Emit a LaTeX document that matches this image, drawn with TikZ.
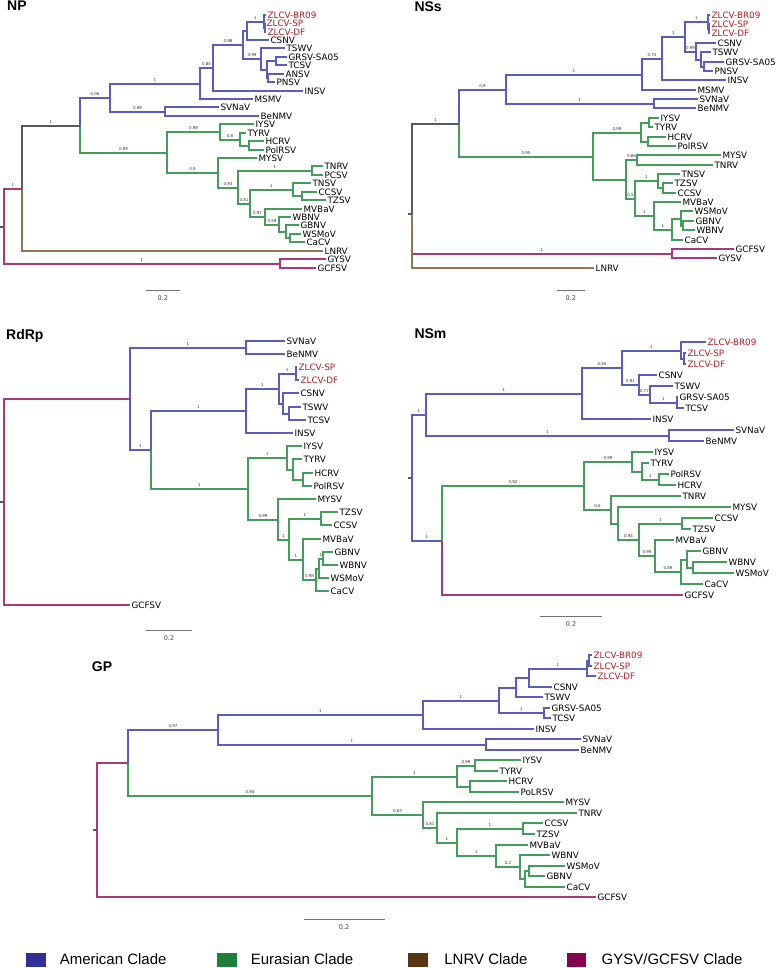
\documentclass[tikz,border=0pt]{standalone}
\usepackage{fontspec}
\setmainfont{DejaVu Sans}
\newfontfamily\ttlfam{Liberation Sans}
\usetikzlibrary{calc}

\definecolor{cAm}{RGB}{92,92,190}
\definecolor{cEu}{RGB}{70,156,92}
\definecolor{cLn}{RGB}{146,116,88}
\definecolor{cGg}{RGB}{168,58,122}
\definecolor{cZl}{RGB}{172,30,38}
\definecolor{kAm}{RGB}{48,48,150}
\definecolor{kEu}{RGB}{30,128,56}
\definecolor{kLn}{RGB}{88,52,16}
\definecolor{kGg}{RGB}{132,6,74}

\tikzset{
  br/.style={line width=2pt},
  am/.style={br,draw=cAm},
  eu/.style={br,draw=cEu},
  ln/.style={br,draw=cLn},
  gg/.style={br,draw=cGg},
  bk/.style={br,draw=black!65},
  leaf/.style={anchor=west,inner sep=1.4pt,text height=6.4pt,text depth=0pt,
    font=\fontsize{8.8}{10}\selectfont},
  sup/.style={pos=.75,above=2.3pt,inner sep=0pt,text height=2.9pt,text depth=0pt,
    font=\fontsize{4}{4}\selectfont,text=black!80},
  ttl/.style={anchor=base west,inner sep=0pt,font=\ttlfam\bfseries\fontsize{14}{16}\selectfont},
  scl/.style={draw=black!55,line width=1pt},
  scllab/.style={below=5pt,inner sep=0pt,font=\fontsize{6.5}{7}\selectfont,text=black!75},
  key/.style={anchor=base west,inner sep=0pt,font=\ttlfam\fontsize{15}{17}\selectfont},
}

% inner node of a tree: x given, y half way between its two children (on whole pixels)
\newcommand\ndat[4]{\path let \p1=(#3), \p2=(#4), \n1={round(#2)},
  \n2={round(0.5*(\y1+\y2)/1pt)} in ({\n1*1pt},{\n2*1pt}) coordinate (#1);}
\newcommand\clad[5][am]{\ndat{#2}{#3}{#4}{#5}%
  \draw[#1] (#2) |- (#4);
  \draw[#1] (#2) |- (#5);}
\newcommand\supp[3]{\path (#1) |- node[sup] (#2-s) {#3} (#2);}

\begin{document}
\begin{tikzpicture}[x=1pt,y=-1pt]
\path[use as bounding box,fill=white] (0,0) rectangle (778,968);

%%% NP
\node[ttl] (tNP) at (7,11) {NP};
\foreach \lf/\tx/\lc [count=\i from 0] in {ZLCV-BR09/266.2/cZl, ZLCV-SP/265.2/cZl,
  ZLCV-DF/266.2/cZl, CSNV/269.2/black, TSWV/284.5/black, GRSV-SA05/286.5/black,
  TCSV/286.5/black, ANSV/283.5/black, PNSV/275.2/black, INSV/303.2/black,
  MSMV/253.2/black, SVNaV/218.5/black, BeNMV/258.5/black, IYSV/254.2/black,
  TYRV/245.5/black, HCRV/263.5/black, PolRSV/263.5/black, MYSV/256.5/black,
  TNRV/322.5/black, PCSV/322.5/black, TNSV/310.5/black, CCSV/316.5/black,
  TZSV/325.5/black, MVBaV/301.5/black, WBNV/290.5/black, GBNV/298.5/black,
  WSMoV/300.5/black, CaCV/304.5/black, LNRV/322.5/black, GYSV/325.5/black,
  GCFSV/315.5/black}
  \path ({round(\tx)},{round(14.7+8.43*\i)}) coordinate (NP-\lf)
    node[leaf,text=\lc] (NP-\lf-l) {\lf};
\clad{NP-SPDF}{264.5}{NP-ZLCV-SP}{NP-ZLCV-DF}
\clad{NP-A1}{263.5}{NP-ZLCV-BR09}{NP-SPDF}
\clad{NP-A2}{246.7}{NP-A1}{NP-CSNV}
\clad{NP-B1}{276}{NP-GRSV-SA05}{NP-TCSV}
\clad{NP-B2}{268.3}{NP-ANSV}{NP-PNSV}
\clad{NP-B3}{266.7}{NP-B1}{NP-B2}
\clad{NP-B4}{260.7}{NP-TSWV}{NP-B3}
\clad{NP-C1}{243.3}{NP-A2}{NP-B4}
\clad{NP-C2}{212.7}{NP-C1}{NP-INSV}
\clad{NP-C3}{200}{NP-C2}{NP-MSMV}
\clad{NP-D1}{165}{NP-SVNaV}{NP-BeNMV}
\clad{NP-Am}{110}{NP-C3}{NP-D1}
\clad[eu]{NP-E1}{249.3}{NP-HCRV}{NP-PolRSV}
\clad[eu]{NP-E2}{240}{NP-TYRV}{NP-E1}
\clad[eu]{NP-E3}{220}{NP-IYSV}{NP-E2}
\clad[eu]{NP-F1}{312.3}{NP-TNRV}{NP-PCSV}
\clad[eu]{NP-G1}{301.7}{NP-CCSV}{NP-TZSV}
\clad[eu]{NP-G2}{292.7}{NP-TNSV}{NP-G1}
\clad[eu]{NP-H1}{290}{NP-WSMoV}{NP-CaCV}
\clad[eu]{NP-H2}{286}{NP-GBNV}{NP-H1}
\clad[eu]{NP-H3}{278.7}{NP-WBNV}{NP-H2}
\clad[eu]{NP-H4}{264.7}{NP-MVBaV}{NP-H3}
\clad[eu]{NP-G3}{250}{NP-G2}{NP-H4}
\clad[eu]{NP-F2}{238.3}{NP-F1}{NP-G3}
\clad[eu]{NP-F3}{218.3}{NP-MYSV}{NP-F2}
\clad[eu]{NP-Eu}{166.7}{NP-E3}{NP-F3}
\ndat{NP-AE}{80}{NP-Am}{NP-Eu}
\draw[am] (NP-AE) |- (NP-Am); \draw[eu] (NP-AE) |- (NP-Eu);
\ndat{NP-L}{21.7}{NP-AE}{NP-LNRV}
\draw[bk] (NP-L) |- (NP-AE); \draw[ln] (NP-L) |- (NP-LNRV);
\clad[gg]{NP-GG}{280}{NP-GYSV}{NP-GCFSV}
\clad[gg]{NP-root}{4}{NP-L}{NP-GG}
\draw[bk] (NP-root) -- ++(-4,0);
\supp{NP-A2}{NP-A1}{1}
\supp{NP-C1}{NP-B4}{0,99}
\supp{NP-C2}{NP-C1}{0,98}
\supp{NP-C3}{NP-C2}{0,85}
\supp{NP-Am}{NP-C3}{1}
\supp{NP-Am}{NP-D1}{0,99}
\supp{NP-AE}{NP-Am}{0,06}
\supp{NP-AE}{NP-Eu}{0,99}
\supp{NP-L}{NP-AE}{1}
\supp{NP-E3}{NP-E2}{0,8}
\supp{NP-Eu}{NP-E3}{0,99}
\supp{NP-Eu}{NP-F3}{0,9}
\supp{NP-F2}{NP-F1}{1}
\supp{NP-F3}{NP-F2}{0,93}
\supp{NP-G3}{NP-G2}{1}
\supp{NP-F2}{NP-G3}{0,81}
\supp{NP-G3}{NP-H4}{0,97}
\supp{NP-H4}{NP-H3}{0,59}
\supp{NP-root}{NP-L}{1}
\supp{NP-root}{NP-GG}{1}
\draw[scl] (145.7,290.5) -- node[scllab] (sNP) {0.2} (180,290.5);

%%% NSs
\node[ttl] (tNSs) at (414.3,11.7) {NSs};
\foreach \lf/\tx/\lc [count=\i from 0] in {ZLCV-BR09/710.2/cZl, ZLCV-SP/709.7/cZl,
  ZLCV-DF/709.9/cZl, CSNV/715.8/black, TSWV/710.8/black, GRSV-SA05/724.2/black,
  PNSV/712.5/black, INSV/725.8/black, MSMV/695.8/black, SVNaV/697.5/black,
  BeNMV/695.8/black, IYSV/659.2/black, TYRV/652.5/black, HCRV/665.8/black,
  PolRSV/675.8/black, MYSV/720.8/black, TNRV/712.5/black, TNSV/679.8/black,
  TZSV/672.5/black, CCSV/675.8/black, MVBaV/680.8/black, WSMoV/692.5/black,
  GBNV/694.2/black, WBNV/694.8/black, CaCV/683.2/black, GCFSV/734.2/black,
  GYSV/716.5/black, LNRV/593.5/black}
  \path ({round(\tx)},{round(14.7+9.37*\i)}) coordinate (NSs-\lf)
    node[leaf,text=\lc] (NSs-\lf-l) {\lf};
\clad{NSs-SPDF}{709.4}{NSs-ZLCV-SP}{NSs-ZLCV-DF}
\clad{NSs-A1}{708.3}{NSs-ZLCV-BR09}{NSs-SPDF}
\clad{NSs-B1}{704.3}{NSs-GRSV-SA05}{NSs-PNSV}
\clad{NSs-B2}{700.7}{NSs-TSWV}{NSs-B1}
\clad{NSs-B}{696}{NSs-CSNV}{NSs-B2}
\clad{NSs-C1}{685}{NSs-A1}{NSs-B}
\clad{NSs-C2}{661.7}{NSs-C1}{NSs-INSV}
\clad{NSs-C3}{642.3}{NSs-C2}{NSs-MSMV}
\clad{NSs-D1}{654}{NSs-SVNaV}{NSs-BeNMV}
\clad{NSs-Am}{506}{NSs-C3}{NSs-D1}
\clad[eu]{NSs-E1}{649.3}{NSs-IYSV}{NSs-TYRV}
\clad[eu]{NSs-E2}{648.3}{NSs-HCRV}{NSs-PolRSV}
\clad[eu]{NSs-E3}{640.7}{NSs-E1}{NSs-E2}
\clad[eu]{NSs-F1}{636.7}{NSs-MYSV}{NSs-TNRV}
\clad[eu]{NSs-G1}{663.3}{NSs-TZSV}{NSs-CCSV}
\clad[eu]{NSs-G2}{658.3}{NSs-TNSV}{NSs-G1}
\clad[eu]{NSs-GW}{683.3}{NSs-GBNV}{NSs-WBNV}
\clad[eu]{NSs-H1}{681}{NSs-WSMoV}{NSs-GW}
\clad[eu]{NSs-H2}{671.7}{NSs-H1}{NSs-CaCV}
\clad[eu]{NSs-H}{654}{NSs-MVBaV}{NSs-H2}
\clad[eu]{NSs-G}{635}{NSs-G2}{NSs-H}
\clad[eu]{NSs-F}{625.7}{NSs-F1}{NSs-G}
\clad[eu]{NSs-Eu}{592.7}{NSs-E3}{NSs-F}
\ndat{NSs-AE}{459}{NSs-Am}{NSs-Eu}
\draw[am] (NSs-AE) |- (NSs-Am); \draw[eu] (NSs-AE) |- (NSs-Eu);
\clad[gg]{NSs-GG}{671.7}{NSs-GCFSV}{NSs-GYSV}
\coordinate (NSs-root) at (412,214);
\draw[bk] (NSs-root) |- (NSs-AE);
\draw[gg] (NSs-root) |- (NSs-GG);
\draw[ln] (NSs-root) |- (NSs-LNRV);
\draw[bk] (NSs-root) -- ++(-4,0);
\supp{NSs-C1}{NSs-A1}{1}
\supp{NSs-C1}{NSs-B}{0,99}
\supp{NSs-C2}{NSs-C1}{1}
\supp{NSs-C3}{NSs-C2}{0,73}
\supp{NSs-Am}{NSs-C3}{1}
\supp{NSs-Am}{NSs-D1}{1}
\supp{NSs-AE}{NSs-Am}{0,9}
\supp{NSs-AE}{NSs-Eu}{0,95}
\supp{NSs-root}{NSs-AE}{1}
\supp{NSs-Eu}{NSs-E3}{0,99}
\supp{NSs-F}{NSs-F1}{0,86}
\supp{NSs-F}{NSs-G}{0,5}
\supp{NSs-G}{NSs-G2}{1}
\supp{NSs-G}{NSs-H}{1}
\supp{NSs-H}{NSs-H2}{1}
\supp{NSs-root}{NSs-GG}{1}
\draw[scl] (556.7,290.5) -- node[scllab] (sNSs) {0.2} (585,290.5);

%%% RdRp
\node[ttl] (tRd) at (6,339.3) {RdRp};
\foreach \lf/\tx/\lc [count=\i from 0] in {SVNaV/284.8/black, BeNMV/284.8/black,
  ZLCV-SP/296.8/cZl, ZLCV-DF/298.5/cZl, CSNV/298.5/black, TSWV/300.8/black,
  TCSV/305.8/black, INSV/292.5/black, IYSV/301.5/black, TYRV/301.5/black,
  HCRV/312.5/black, PolRSV/311.8/black, MYSV/315.8/black, TZSV/337.5/black,
  CCSV/331.8/black, MVBaV/320.8/black, GBNV/333.2/black, WBNV/337.5/black,
  WSMoV/328.5/black, CaCV/328.5/black, GCFSV/130.2/black}
  \path ({round(\tx)},{round(340.7+13.2*\i)}) coordinate (Rd-\lf)
    node[leaf,text=\lc] (Rd-\lf-l) {\lf};
\clad{Rd-D1}{246}{Rd-SVNaV}{Rd-BeNMV}
\clad{Rd-A1}{296}{Rd-ZLCV-SP}{Rd-ZLCV-DF}
\clad{Rd-B1}{288.7}{Rd-TSWV}{Rd-TCSV}
\clad{Rd-B}{283.3}{Rd-CSNV}{Rd-B1}
\clad{Rd-C}{279.3}{Rd-A1}{Rd-B}
\clad{Rd-Am}{246}{Rd-C}{Rd-INSV}
\clad[eu]{Rd-E1}{302.7}{Rd-HCRV}{Rd-PolRSV}
\clad[eu]{Rd-E2}{292.7}{Rd-TYRV}{Rd-E1}
\clad[eu]{Rd-E3}{286.7}{Rd-IYSV}{Rd-E2}
\clad[eu]{Rd-G1}{320.7}{Rd-TZSV}{Rd-CCSV}
\clad[eu]{Rd-GW}{322.7}{Rd-GBNV}{Rd-WBNV}
\clad[eu]{Rd-H1}{319.3}{Rd-GW}{Rd-WSMoV}
\clad[eu]{Rd-H2}{316}{Rd-H1}{Rd-CaCV}
\clad[eu]{Rd-H}{302.7}{Rd-MVBaV}{Rd-H2}
\clad[eu]{Rd-G}{289.3}{Rd-G1}{Rd-H}
\clad[eu]{Rd-F}{278.3}{Rd-MYSV}{Rd-G}
\clad[eu]{Rd-Eu}{248.3}{Rd-E3}{Rd-F}
\ndat{Rd-X}{151}{Rd-Am}{Rd-Eu}
\draw[am] (Rd-X) |- (Rd-Am); \draw[eu] (Rd-X) |- (Rd-Eu);
\clad{Rd-AE}{130}{Rd-D1}{Rd-X}
\clad[gg]{Rd-root}{4}{Rd-AE}{Rd-GCFSV}
\draw[bk] (Rd-root) -- ++(-4,0);
\supp{Rd-AE}{Rd-D1}{1}
\supp{Rd-AE}{Rd-X}{1}
\supp{Rd-X}{Rd-Am}{1}
\supp{Rd-Am}{Rd-C}{1}
\supp{Rd-C}{Rd-A1}{1}
\supp{Rd-X}{Rd-Eu}{1}
\supp{Rd-Eu}{Rd-E3}{1}
\supp{Rd-Eu}{Rd-F}{0,99}
\supp{Rd-F}{Rd-G}{1}
\supp{Rd-G}{Rd-G1}{1}
\supp{Rd-G}{Rd-H}{1}
\supp{Rd-H}{Rd-H2}{0,98}
\supp{Rd-H1}{Rd-GW}{1}
\draw[scl] (145.7,630.5) -- node[scllab] (sRd) {0.2} (192.3,630.5);

%%% NSm
\node[ttl] (tNSm) at (414.3,338.3) {NSm};
\foreach \lf/\tx/\lc [count=\i from 0] in {ZLCV-BR09/705.8/cZl, ZLCV-SP/686/cZl,
  ZLCV-DF/686/cZl, CSNV/656.8/black, TSWV/673.2/black, GRSV-SA05/677.5/black,
  TCSV/684.2/black, INSV/650.8/black, SVNaV/733.5/black, BeNMV/704.2/black,
  IYSV/652.5/black, TYRV/649.2/black, PolRSV/669.2/black, HCRV/675.8/black,
  TNRV/680.8/black, MYSV/730.8/black, CCSV/712.5/black, TZSV/690.8/black,
  MVBaV/674.2/black, GBNV/700.8/black, WBNV/726.8/black, WSMoV/733.5/black,
  CaCV/702.5/black, GCFSV/682.5/black}
  \path ({round(\tx)},{round(341.7+11*\i)}) coordinate (NSm-\lf)
    node[leaf,text=\lc] (NSm-\lf-l) {\lf};
\clad{NSm-SPDF}{684}{NSm-ZLCV-SP}{NSm-ZLCV-DF}
\clad{NSm-A1}{680.7}{NSm-ZLCV-BR09}{NSm-SPDF}
\clad{NSm-B1}{676.7}{NSm-GRSV-SA05}{NSm-TCSV}
\clad{NSm-B2}{650}{NSm-TSWV}{NSm-B1}
\clad{NSm-B}{639.3}{NSm-CSNV}{NSm-B2}
\clad{NSm-C2}{621.7}{NSm-A1}{NSm-B}
\clad{NSm-C3}{581.7}{NSm-C2}{NSm-INSV}
\clad{NSm-D1}{669.3}{NSm-SVNaV}{NSm-BeNMV}
\clad{NSm-Am}{425.7}{NSm-C3}{NSm-D1}
\clad[eu]{NSm-E1}{659.3}{NSm-PolRSV}{NSm-HCRV}
\clad[eu]{NSm-E2}{641.7}{NSm-TYRV}{NSm-E1}
\clad[eu]{NSm-E3}{632.3}{NSm-IYSV}{NSm-E2}
\clad[eu]{NSm-G1}{681.7}{NSm-CCSV}{NSm-TZSV}
\clad[eu]{NSm-WW}{693.3}{NSm-WBNV}{NSm-WSMoV}
\clad[eu]{NSm-K}{686.7}{NSm-GBNV}{NSm-WW}
\clad[eu]{NSm-J}{680.7}{NSm-K}{NSm-CaCV}
\clad[eu]{NSm-I}{655}{NSm-MVBaV}{NSm-J}
\clad[eu]{NSm-H}{639}{NSm-G1}{NSm-I}
\clad[eu]{NSm-G}{617.7}{NSm-MYSV}{NSm-H}
\clad[eu]{NSm-F}{611}{NSm-TNRV}{NSm-G}
\clad[eu]{NSm-Eu}{584.3}{NSm-E3}{NSm-F}
\ndat{NSm-X}{442.3}{NSm-Eu}{NSm-GCFSV}
\draw[eu] (NSm-X) |- (NSm-Eu); \draw[gg] (NSm-X) |- (NSm-GCFSV);
\clad{NSm-root}{412.3}{NSm-Am}{NSm-X}
\draw[bk] (NSm-root) -- ++(-4,0);
\supp{NSm-root}{NSm-Am}{1}
\supp{NSm-root}{NSm-X}{1}
\supp{NSm-Am}{NSm-C3}{1}
\supp{NSm-Am}{NSm-D1}{1}
\supp{NSm-C3}{NSm-C2}{0,94}
\supp{NSm-C2}{NSm-A1}{1}
\supp{NSm-C2}{NSm-B}{0,91}
\supp{NSm-B}{NSm-B2}{0,77}
\supp{NSm-B2}{NSm-B1}{1}
\supp{NSm-X}{NSm-Eu}{0,92}
\supp{NSm-Eu}{NSm-E3}{0,99}
\supp{NSm-E2}{NSm-E1}{1}
\supp{NSm-Eu}{NSm-F}{0,6}
\supp{NSm-G}{NSm-H}{0,94}
\supp{NSm-H}{NSm-G1}{1}
\supp{NSm-H}{NSm-I}{0,99}
\supp{NSm-I}{NSm-J}{0,89}
\draw[scl] (540,616.5) -- node[scllab] (sNSm) {0.2} (602.3,616.5);

%%% GP
\node[ttl] (tGP) at (91.7,671.7) {GP};
\foreach \lf/\tx/\lc [count=\i from 0] in {ZLCV-BR09/591.5/cZl, ZLCV-SP/591.5/cZl,
  ZLCV-DF/595.8/cZl, CSNV/551.8/black, TSWV/543.2/black, GRSV-SA05/549.8/black,
  TCSV/550.8/black, INSV/534.2/black, SVNaV/580.6/black, BeNMV/579.1/black,
  IYSV/521.1/black, TYRV/497.7/black, HCRV/507.2/black, PoLRSV/518.6/black,
  MYSV/564.2/black, TNRV/576.7/black, CCSV/543.4/black, TZSV/535/black,
  MVBaV/527.5/black, WBNV/549.9/black, WSMoV/564.7/black, GBNV/544.9/black,
  CaCV/564.7/black, GCFSV/595.5/black}
  \path ({round(\tx)},{round(655+10.53*\i)}) coordinate (GP-\lf)
    node[leaf,text=\lc] (GP-\lf-l) {\lf};
\clad{GP-BS}{589}{GP-ZLCV-BR09}{GP-ZLCV-SP}
\clad{GP-A1}{587.3}{GP-BS}{GP-ZLCV-DF}
\clad{GP-A2}{529}{GP-A1}{GP-CSNV}
\clad{GP-C1}{516}{GP-A2}{GP-TSWV}
\clad{GP-B1}{544}{GP-GRSV-SA05}{GP-TCSV}
\clad{GP-C2}{499.3}{GP-C1}{GP-B1}
\clad{GP-C3}{422.7}{GP-C2}{GP-INSV}
\clad{GP-D1}{486.4}{GP-SVNaV}{GP-BeNMV}
\clad{GP-Am}{218.4}{GP-C3}{GP-D1}
\clad[eu]{GP-E2}{475.4}{GP-IYSV}{GP-TYRV}
\clad[eu]{GP-E1}{470}{GP-HCRV}{GP-PoLRSV}
\clad[eu]{GP-E3}{456.6}{GP-E2}{GP-E1}
\clad[eu]{GP-G1}{522.6}{GP-CCSV}{GP-TZSV}
\clad[eu]{GP-WG}{528.5}{GP-WSMoV}{GP-GBNV}
\clad[eu]{GP-WGC}{524.6}{GP-WG}{GP-CaCV}
\clad[eu]{GP-J}{520.1}{GP-WBNV}{GP-WGC}
\clad[eu]{GP-I}{496.3}{GP-MVBaV}{GP-J}
\clad[eu]{GP-H}{456.6}{GP-G1}{GP-I}
\clad[eu]{GP-G}{436.7}{GP-TNRV}{GP-H}
\clad[eu]{GP-F}{423.3}{GP-MYSV}{GP-G}
\clad[eu]{GP-Eu}{372.2}{GP-E3}{GP-F}
\ndat{GP-X}{127.5}{GP-Am}{GP-Eu}
\draw[am] (GP-X) |- (GP-Am); \draw[eu] (GP-X) |- (GP-Eu);
\clad[gg]{GP-root}{96.8}{GP-X}{GP-GCFSV}
\draw[bk] (GP-root) -- ++(-4,0);
\supp{GP-A2}{GP-A1}{1}
\supp{GP-C2}{GP-B1}{1}
\supp{GP-C3}{GP-C2}{1}
\supp{GP-Am}{GP-C3}{1}
\supp{GP-Am}{GP-D1}{1}
\supp{GP-X}{GP-Am}{0,97}
\supp{GP-X}{GP-Eu}{0,94}
\supp{GP-Eu}{GP-E3}{1}
\supp{GP-E3}{GP-E2}{0,99}
\supp{GP-Eu}{GP-F}{0,63}
\supp{GP-F}{GP-G}{0,81}
\supp{GP-G}{GP-H}{1}
\supp{GP-H}{GP-G1}{1}
\supp{GP-H}{GP-I}{1}
\supp{GP-I}{GP-J}{0,2}
\draw[scl] (303.7,919.5) -- node[scllab] (sGP) {0.2} (384.6,919.5);

%%% legend
\fill[kAm] (25.8,953.3) rectangle (45.7,966.7);
\node[key] (lAm) at (59.6,964) {American Clade};
\fill[kEu] (216.9,953.3) rectangle (236.7,966.7);
\node[key] (lEu) at (250.6,964) {Eurasian Clade};
\fill[kLn] (408,953.3) rectangle (427.8,966.7);
\node[key] (lLn) at (444.2,964) {LNRV Clade};
\fill[kGg] (567.2,953.3) rectangle (585.6,966.7);
\node[key] (lGg) at (601.5,964) {GYSV/GCFSV Clade};
\end{tikzpicture}
\end{document}
